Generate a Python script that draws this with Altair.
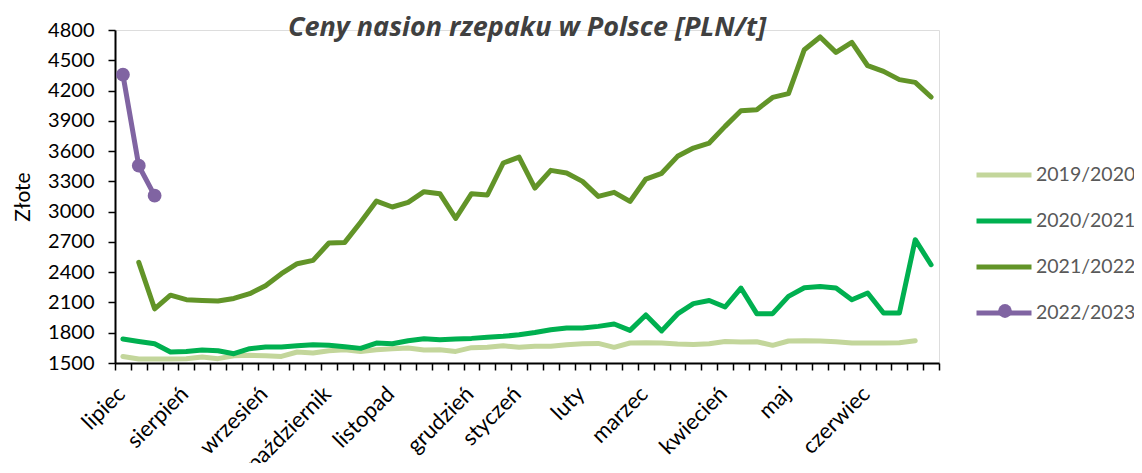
import altair as alt
import pandas as pd

series_names = ["2019/2020", "2020/2021", "2021/2022", "2022/2023"]
series_colors = ["#C3D69B", "#00B050", "#629428", "#8064A2"]

# weekly prices, week index 0..51 (season July-June)
s2019 = [1565, 1540, 1540, 1540, 1543, 1559, 1543, 1572, 1576, 1572,
         1565, 1609, 1599, 1622, 1632, 1615, 1632, 1642, 1648, 1629,
         1632, 1615, 1652, 1655, 1671, 1655, 1665, 1665, 1681, 1691,
         1694, 1655, 1698, 1701, 1698, 1688, 1684, 1691, 1714, 1708,
         1711, 1675, 1718, 1721, 1718, 1711, 1698, 1698, 1698, 1701,
         1721]
s2020 = [1738, 1714, 1691, 1609, 1615, 1629, 1622, 1592, 1642, 1658,
         1658, 1671, 1681, 1675, 1662, 1645, 1698, 1690, 1721, 1741,
         1731, 1738, 1744, 1754, 1764, 1780, 1803, 1830, 1847, 1847,
         1863, 1886, 1823, 1976, 1818, 1986, 2088, 2120, 2055, 2243,
         1989, 1989, 2160, 2246, 2259, 2243, 2127, 2194, 1995, 1995,
         2722, 2474]
s2021 = [None, 2497, 2037, 2172, 2128, 2120, 2114, 2140, 2187, 2266,
         2385, 2484, 2517, 2689, 2695, 2895, 3105, 3046, 3092, 3198,
         3178, 2933, 3178, 3165, 3482, 3541, 3234, 3409, 3383, 3300,
         3151, 3191, 3101, 3323, 3380, 3548, 3630, 3680, 3845, 4000,
         4010, 4132, 4169, 4605, 4731, 4578, 4677, 4446, 4390, 4308,
         4281, 4136]
s2022 = [4357, 3455, 3158]

month_labels = ["lipiec", "sierpień", "wrzesień", "październik", "listopad",
                "grudzień", "styczeń", "luty", "marzec", "kwiecień", "maj",
                "czerwiec"]
month_weeks = [0, 4, 9, 13, 17, 22, 25, 29, 33, 38, 42, 47]
n_weeks = 52

y_ticks = list(range(1500, 4801, 300))

rows = []
for name, vals in zip(series_names, [s2019, s2020, s2021, s2022]):
    for i, v in enumerate(vals):
        if v is not None:
            rows.append({"series": name, "week": i, "value": v})
df = pd.DataFrame(rows)

label_map = ",".join(f"'{w}':'{m}'" for w, m in zip(month_weeks, month_labels))
label_expr = "({" + label_map + "})[datum.value] || ''"

FONT = "Lato"

x_enc = alt.X(
    "week:O",
    bandPosition=0.5,
    scale=alt.Scale(type="band", domain=list(range(n_weeks)), paddingInner=0, paddingOuter=0),
    axis=alt.Axis(
        title=None,
        labelExpr=label_expr,
        labelAngle=-45,
        labelAlign="right",
        labelBaseline="middle",
        labelOverlap=False,
        labelFontSize=22,
        labelFont=FONT,
        labelColor="#000000",
        labelPadding=20,
        labelOffset=-2,
        tickBand="extent",
        tickSize=7,
        tickColor="#000000",
        tickWidth=1.5,
        domainColor="#000000",
        domainWidth=2,
    ),
)
y_axis = alt.Axis(
    title="Złote",
    titleFont=FONT,
    titleFontSize=21,
    titleFontWeight="normal",
    titleColor="#000000",
    titlePadding=14,
    values=y_ticks,
    format="d",
    labelOverlap=False,
    labelSeparation=0,
    grid=False,
    labelFontSize=20,
    labelFont=FONT,
    labelColor="#000000",
    labelPadding=14,
    tickSize=7,
    tickColor="#000000",
    tickWidth=1.5,
    domainColor="#000000",
    domainWidth=2,
)
y_scale = alt.Scale(domain=[1500, 4800], nice=False, zero=False)
y_enc = alt.Y("value:Q", scale=y_scale, axis=y_axis)

lines = alt.Chart(df).mark_line(strokeWidth=5, strokeCap="round", strokeJoin="round").encode(
    x=x_enc,
    y=y_enc,
    color=alt.Color(
        "series:N",
        scale=alt.Scale(domain=series_names, range=series_colors),
        legend=alt.Legend(
            title=None,
            orient="none",
            legendX=859,
            legendY=115,
            symbolType="stroke",
            symbolSize=3025,
            symbolStrokeWidth=5,
            labelFont=FONT,
            labelFontSize=19.5,
            labelColor="#595959",
            labelOffset=2,
            rowPadding=6,
            padding=0,
        ),
    ),
)

pts = alt.Chart(df[df["series"] == "2022/2023"]).mark_point(
    filled=True, size=190, opacity=1, color="#8064A2"
).encode(
    x=x_enc,
    y=y_enc,
    shape=alt.Shape(
        "series:N",
        scale=alt.Scale(domain=["2022/2023"], range=["circle"]),
        legend=alt.Legend(
            title=None,
            orient="none",
            legendX=882,
            legendY=273,
            symbolSize=190,
            symbolFillColor="#8064A2",
            symbolStrokeColor="#8064A2",
            symbolOpacity=1,
            labelExpr="''",
            padding=0,
        ),
    ),
)

chart = alt.layer(lines, pts).resolve_legend(color="independent", shape="independent").properties(
    width=824,
    height=333,
    autosize=alt.AutoSizeParams(type="none"),
    padding={"left": 107, "top": 22, "right": 195, "bottom": 100},
    title=alt.TitleParams(
        "Ceny nasion rzepaku w Polsce [PLN/t]",
        font="Open Sans",
        fontSize=27,
        fontWeight="bold",
        fontStyle="italic",
        color="#404040",
        anchor="middle",
        offset=0,
        dy=22,
    ),
).configure_view(stroke=None).configure(background="#ffffff")

chart.save("out.html", embed_options={"renderer": "svg", "actions": False})
